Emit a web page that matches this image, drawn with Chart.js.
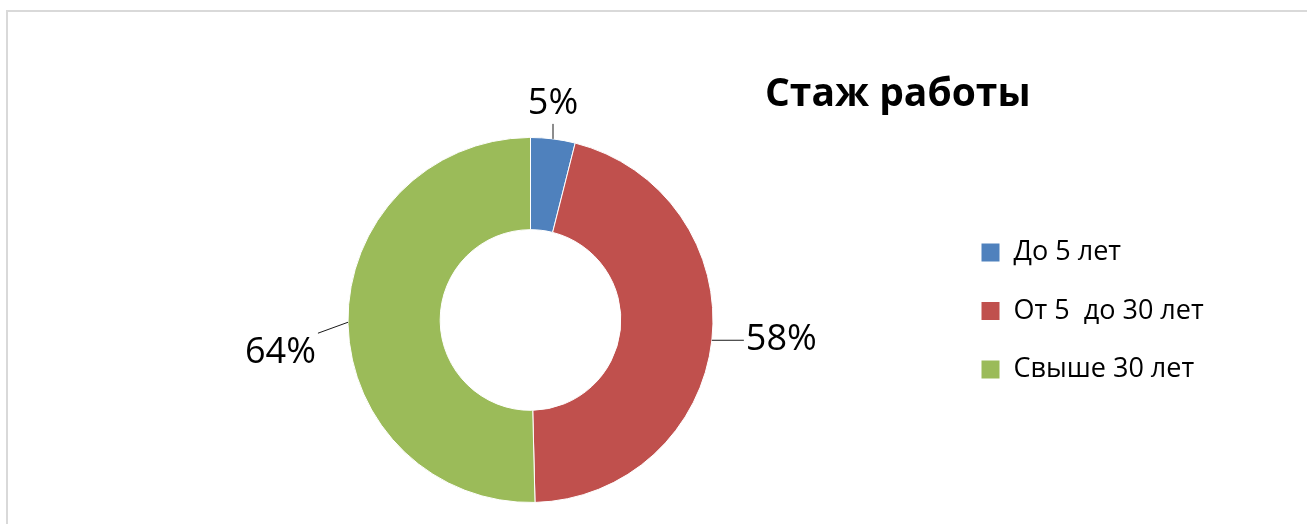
<!DOCTYPE html>
<html lang="ru">
<head>
<meta charset="utf-8">
<title>Стаж работы</title>
<script src="https://cdn.jsdelivr.net/npm/chart.js@4.4.0/dist/chart.umd.min.js"></script>
<style>
    html, body { margin: 0; padding: 0; background: #fff; }
    #wrap { width: 1307px; height: 524px; overflow: hidden; }
    canvas { display: block; }
</style>
</head>
<body>
<div id="wrap"><canvas id="graficoStazh" width="1307" height="524"></canvas></div>
<script>
// Datos del gráfico
const categorias = ['До 5 лет', 'От 5  до 30 лет', 'Свыше 30 лет'];
const valores = [5, 58, 64];
const titulo = 'Стаж работы';

// Marco gris (arriba e izquierda) y fondo blanco
const marco = {
    id: 'marco',
    beforeDraw(chart) {
        const ctx = chart.ctx;
        ctx.save();
        ctx.fillStyle = '#fff';
        ctx.fillRect(0, 0, chart.width, chart.height);
        ctx.fillStyle = '#d9d9d9';
        ctx.fillRect(6, 10, chart.width - 6, 2);
        ctx.fillRect(6, 10, 2, chart.height - 10);
        ctx.restore();
    }
};

// Título a la derecha, encima de la leyenda
const tituloLateral = {
    id: 'tituloLateral',
    afterDraw(chart, args, opts) {
        const ctx = chart.ctx;
        ctx.save();
        ctx.font = opts.font;
        ctx.fillStyle = '#000';
        ctx.textAlign = 'left';
        ctx.textBaseline = 'alphabetic';
        ctx.fillText(opts.text, opts.x, opts.y);
        ctx.restore();
    }
};

// Ancho fijo de la leyenda y pequeño desplazamiento vertical
const ajusteLeyenda = {
    id: 'ajusteLeyenda',
    beforeInit(chart, args, opts) {
        const fitOriginal = chart.legend.fit;
        chart.legend.fit = function () {
            fitOriginal.call(this);
            this.width = opts.width;
        };
    },
    afterLayout(chart, args, opts) {
        chart.legend.top += opts.dy;
        chart.legend.bottom += opts.dy;
    }
};

const limitar = v => Math.max(-1, Math.min(1, v));

// Etiquetas de porcentaje con líneas guía
const etiquetas = {
    id: 'etiquetas',
    afterDatasetsDraw(chart, args, opts) {
        const ctx = chart.ctx;
        const meta = chart.getDatasetMeta(0);
        const data = chart.data.datasets[0].data;
        ctx.save();
        ctx.font = opts.font;
        ctx.fillStyle = '#000';
        ctx.strokeStyle = '#1a1a1a';
        ctx.lineWidth = 1;
        meta.data.forEach((arc, i) => {
            const p = arc.getProps(['x', 'y', 'startAngle', 'endAngle', 'outerRadius'], true);
            const mid = (p.startAngle + p.endAngle) / 2;
            const x0 = p.x + Math.cos(mid) * p.outerRadius;
            const y0 = p.y + Math.sin(mid) * p.outerRadius;
            const dir = mid + opts.tilt[i] * Math.PI / 180;
            const dx = Math.cos(dir), dy = Math.sin(dir);
            const x1 = x0 + dx * opts.len[i];
            const y1 = y0 + dy * opts.len[i];
            ctx.beginPath();
            ctx.moveTo(x0, y0);
            ctx.lineTo(x1, y1);
            ctx.stroke();

            // la línea toca el borde (o la esquina) del cuadro del texto
            const texto = data[i] + '%';
            const hw = ctx.measureText(texto).width / 2 + opts.pad;
            const hh = opts.size * 0.55;
            const cx = x1 + hw * limitar(dx * 3);
            const cy = y1 + hh * limitar(dy * 3);
            ctx.textAlign = 'center';
            ctx.textBaseline = 'middle';
            ctx.fillText(texto, cx, cy);
        });
        ctx.restore();
    }
};

function dibujar() {
    const canvas = document.getElementById('graficoStazh');
    new Chart(canvas.getContext('2d'), {
        type: 'doughnut',
        data: {
            labels: categorias,
            datasets: [{
                data: valores,
                backgroundColor: ['#4F81BD', '#C0504D', '#9BBB59'],
                borderColor: '#ffffff',
                borderWidth: 1,
                hoverOffset: 0
            }]
        },
        options: {
            responsive: false,
            animation: false,
            cutout: '49.5%',
            layout: { padding: { left: 111.5, right: 0, top: 137, bottom: 21 } },
            plugins: {
                tooltip: { enabled: false },
                legend: {
                    position: 'right',
                    labels: {
                        boxWidth: 19,
                        boxHeight: 19,
                        padding: 31.5,
                        color: '#000',
                        font: { family: '"Open Sans", sans-serif', size: 27 }
                    }
                },
                ajusteLeyenda: { width: 357.5, dy: -9 },
                tituloLateral: { text: titulo, x: 765, y: 106, font: 'bold 39px "Open Sans", sans-serif' },
                etiquetas: {
                    font: '36px "Open Sans", sans-serif',
                    size: 36,
                    pad: 2,
                    len: [15, 32, 32],
                    tilt: [-7.1, -6.4, -19.3]
                }
            }
        },
        plugins: [marco, ajusteLeyenda, tituloLateral, etiquetas]
    });
}

if (document.fonts && document.fonts.ready) {
    document.fonts.ready.then(dibujar);
} else {
    dibujar();
}
</script>
</body>
</html>
